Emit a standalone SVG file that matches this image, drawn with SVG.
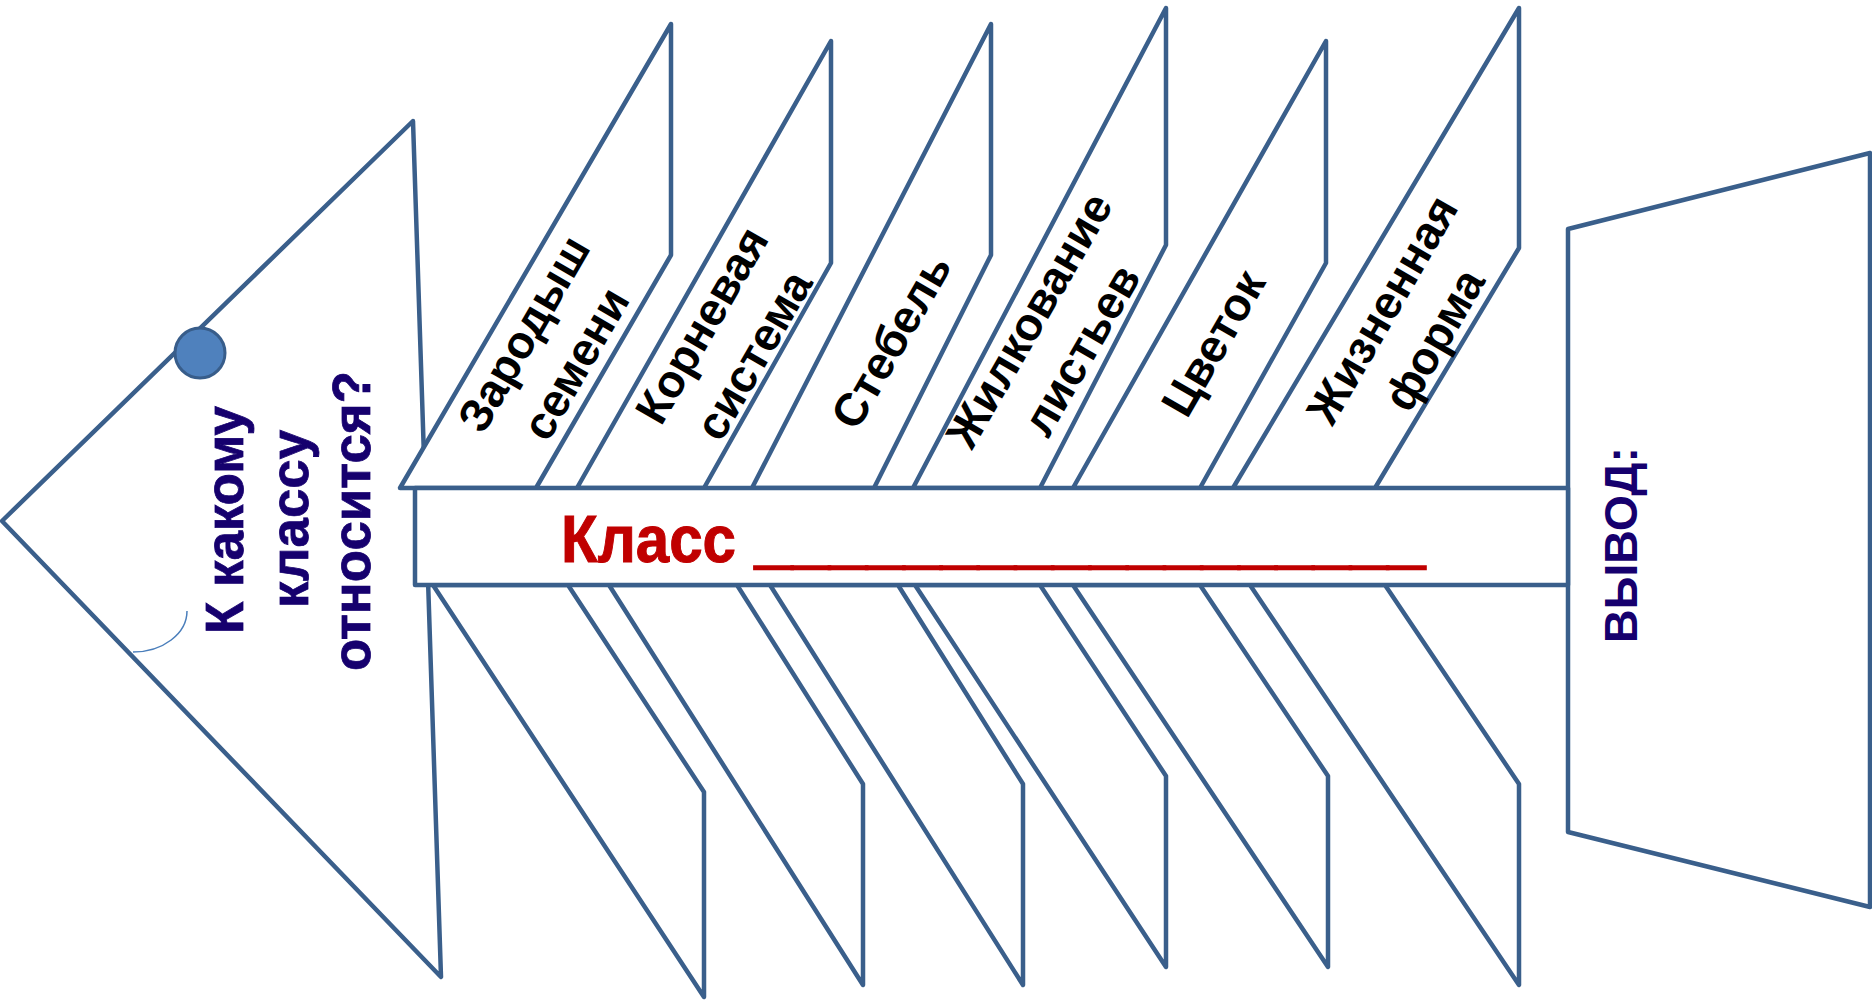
<svg xmlns="http://www.w3.org/2000/svg" width="1872" height="1002" viewBox="0 0 1872 1002">
<style>
.s{fill:#fff;stroke:#3a5f8b;stroke-width:4.5;stroke-linejoin:round}
.ft{font-family:'Liberation Sans',Arial,sans-serif;font-weight:bold;font-size:46px;fill:#000;text-anchor:middle}
.nv{font-family:'Liberation Sans',Arial,sans-serif;font-weight:bold;fill:#16006e;text-anchor:middle}
.rd{font-family:'Liberation Sans',Arial,sans-serif;font-weight:bold;fill:#c00000;font-size:67px}
</style>
<rect width="1872" height="1002" fill="#fff"/>
<g id="head">
<polygon class="s" points="413,121 2,521 441,977"/>
<path d="M133,652 A54,41 0 0 0 187,611" fill="none" stroke="#4a7ebb" stroke-width="1.5"/>
<circle cx="200" cy="353" r="25" fill="#4f81bd" stroke="#385d8a" stroke-width="3"/>
<text class="nv" font-size="54" transform="rotate(-90)" x="-520" y="243" textLength="228" lengthAdjust="spacingAndGlyphs" stroke="#16006e" stroke-width="0.8">К какому</text>
<text class="nv" font-size="54" transform="rotate(-90)" x="-519" y="308" textLength="178" lengthAdjust="spacingAndGlyphs" stroke="#16006e" stroke-width="0.8">классу</text>
<text class="nv" font-size="54" transform="rotate(-90)" x="-521" y="370" textLength="300" lengthAdjust="spacingAndGlyphs" stroke="#16006e" stroke-width="0.8">относится?</text>
</g>
<g id="tail">
<polygon class="s" points="1568,229 1870,153 1870,907 1568,832"/>
<text class="nv" font-size="47" transform="rotate(-90)" x="-545" y="1637" textLength="196" lengthAdjust="spacingAndGlyphs">ВЫВОД:</text>
</g>
<g id="fin-top-1">
<polygon class="s" points="400,488 671,24 671,255 536,488"/>
<g transform="translate(549.5,348.5) rotate(-60)"><text class="ft" x="0" y="-14">Зародыш</text><text class="ft" x="0" y="46">семени</text></g>
</g>
<g id="fin-top-2">
<polygon class="s" points="577,488 831,41 831,263 704,488"/>
<g transform="translate(727.5,340) rotate(-60)"><text class="ft" x="0" y="-14">Корневая</text><text class="ft" x="0" y="46">система</text></g>
</g>
<g id="fin-top-3">
<polygon class="s" points="752,488 991,24 991,255 874,488"/>
<g transform="translate(891,341) rotate(-60)"><text class="ft" x="0" y="16">Стебель</text></g>
</g>
<g id="fin-top-4">
<polygon class="s" points="913,488 1166,8 1166,245 1040,488"/>
<g transform="translate(1055,335) rotate(-60)"><text class="ft" x="0" y="-14">Жилкование</text><text class="ft" x="0" y="46">листьев</text></g>
</g>
<g id="fin-top-5">
<polygon class="s" points="1073,488 1326,41 1326,263 1200,488"/>
<g transform="translate(1213,343) rotate(-60)"><text class="ft" x="0" y="16">Цветок</text></g>
</g>
<g id="fin-top-6">
<polygon class="s" points="1233,488 1519,8 1519,248 1375,488"/>
<g transform="translate(1408,324.5) rotate(-60)"><text class="ft" x="0" y="-14">Жизненная</text><text class="ft" x="0" y="46">форма</text></g>
</g>
<g id="fin-bottom-1"><polygon class="s" points="433,585 704,997 704,792 568,585"/></g>
<g id="fin-bottom-2"><polygon class="s" points="609,585 863,985 863,784 737,585"/></g>
<g id="fin-bottom-3"><polygon class="s" points="770,585 1023,985 1023,784 898,585"/></g>
<g id="fin-bottom-4"><polygon class="s" points="915,585 1166,967 1166,776 1040,585"/></g>
<g id="fin-bottom-5"><polygon class="s" points="1073,585 1328,967 1328,776 1200,585"/></g>
<g id="fin-bottom-6"><polygon class="s" points="1250,585 1519,985 1519,784 1385,585"/></g>
<g id="spine">
<rect class="s" x="415" y="488" width="1153" height="97"/>
<text class="rd" x="561" y="562" textLength="175" lengthAdjust="spacingAndGlyphs" stroke="#c00000" stroke-width="1">Класс</text>
<text class="rd" x="755" y="561" textLength="670" lengthAdjust="spacingAndGlyphs" stroke="#c00000" stroke-width="2.5">__________________</text>
</g>
</svg>
